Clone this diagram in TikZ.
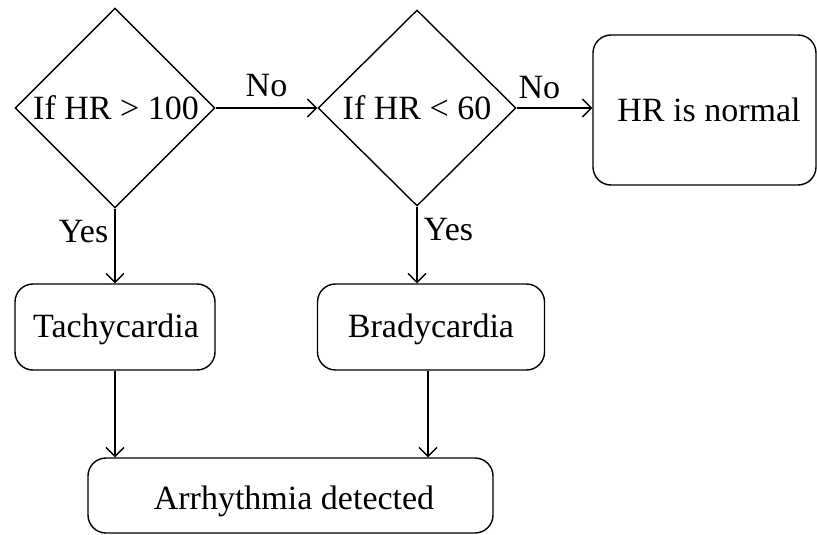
\documentclass[tikz,border=0pt]{standalone}
\usepackage{fontspec}
\setmainfont{Liberation Serif}
\usetikzlibrary{shapes.geometric,arrows.meta}
\begin{document}
\begin{tikzpicture}[x=1pt,y=-1pt,
  every node/.style={font=\fontsize{34}{38}\selectfont},
  dec/.style={draw,diamond,line width=1.4pt,inner sep=0pt,minimum width=200pt,minimum height=200pt},
  box/.style={draw,rounded corners=18pt,line width=1.4pt,inner sep=0pt},
  arr/.style={line width=1.4pt,-{Straight Barb[length=9pt,width=18pt,line width=1.4pt]}},
  lbl/.style={inner sep=0pt}]
\useasboundingbox (0,0) rectangle (817,535);
\node[dec] (d1) at (115,108) {};
\node[lbl] (t1) at (116,108) {If HR > 100};
\node[dec,minimum width=198pt,minimum height=196pt] (d2) at (417,108) {};
\node[lbl] (t2) at (417,108) {If HR < 60};
\node[box,minimum width=223pt,minimum height=150pt] (norm) at (704.5,110) {};
\node[lbl] (tn) at (709,110) {HR is normal};
\node[box,minimum width=200pt,minimum height=86pt] (tachy) at (115,327) {};
\node[lbl] (tt) at (116,329) {Tachycardia};
\node[box,minimum width=227pt,minimum height=86pt] (brady) at (431,327) {};
\node[lbl] (tb) at (431,329) {Bradycardia};
\node[box,minimum width=405pt,minimum height=75pt] (arrh) at (290.5,495.5) {};
\node[lbl] (ta) at (294,501) {Arrhythmia detected};
\draw[arr] (d1.east) -- (d2.west) node[lbl,midway,above=10pt] (no1) {No};
\draw[arr] (d2.east) -- (d2.east -| norm.west) node[lbl,pos=0.3,above=8pt] (no2) {No};
\draw[arr] (d1.south) -- (d1.south |- tachy.north) node[lbl,pos=0.3,left=6pt] (y1) {Yes};
\draw[arr] (d2.south) -- (d2.south |- brady.north) node[lbl,pos=0.3,right=6pt] (y2) {Yes};
\draw[arr] (tachy.south) -- (tachy.south |- arrh.north);
\draw[arr] ([xshift=-3pt]brady.south) -- ([xshift=-3pt]brady.south |- arrh.north);
\end{tikzpicture}
\end{document}
